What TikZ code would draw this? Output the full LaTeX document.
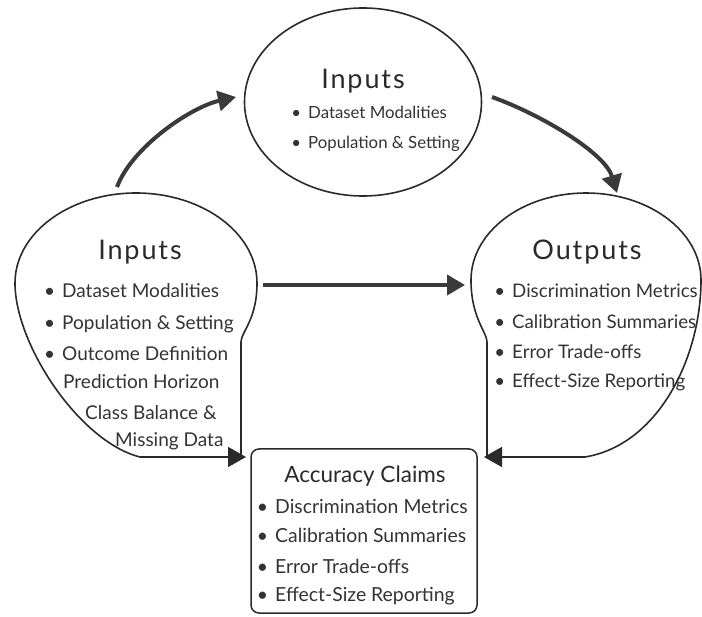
\documentclass[tikz,border=0pt]{standalone}
\usepackage{fontspec}
\setmainfont{Lato}
\newfontfamily\headfont[LetterSpace=7]{Lato}
\usetikzlibrary{arrows.meta,shapes.geometric,calc}
\definecolor{ink}{HTML}{2A2A2A}
\definecolor{txt}{HTML}{333333}
\definecolor{arrowc}{HTML}{3A3A3A}
\newcommand{\bul}{\llap{\textbullet\hspace{7pt}}}
\begin{document}
\begin{tikzpicture}[x=1pt,y=-1pt,
  outline/.style={draw=ink, line width=1.6pt, line join=round},
  flow/.style={draw=arrowc, line width=4pt, -{Triangle[length=18pt,width=20pt]}},
  cornertip/.style={draw=ink, line width=1.6pt, -{Triangle[length=18pt,width=20pt]}},
  headline/.style={anchor=base, inner sep=0pt, text=ink, font=\headfont\fontsize{27}{30}\selectfont},
  subhead/.style={anchor=base, inner sep=0pt, text=ink, font=\fontsize{22.5}{26}\selectfont},
  itemL/.style={anchor=base west, inner sep=0pt, text=txt, font=\fontsize{19}{22}\selectfont},
  itemT/.style={anchor=base west, inner sep=0pt, text=txt, font=\fontsize{16.8}{20}\selectfont},
  itemR/.style={anchor=base west, inner sep=0pt, text=txt, font=\fontsize{18.7}{22}\selectfont},
  itemB/.style={anchor=base west, inner sep=0pt, text=txt, font=\fontsize{19.4}{22}\selectfont}
]
\useasboundingbox (0,0) rectangle (702,617);

% ---- top ellipse: Inputs ----
\node[ellipse, draw=ink, line width=1.6pt, minimum width=237pt, minimum height=188pt, inner sep=0pt] (topin) at (363,102) {};
\node[headline] (topttl) at (363,89) {Inputs};
\node[itemT] (t1) at (308,119) {\bul Dataset Modalities};
\node[itemT] (t2) at (308,149) {\bul Population \& Setting};

% ---- left bubble: Inputs ----
\draw[outline] (241,457) -- (241,342)
  .. controls (241,332) and (257,320) .. (257,283)
  .. controls (257,233.3) and (202.8,193) .. (136,193)
  .. controls (69.2,193) and (15,233.3) .. (15,283)
  .. controls (15,345) and (80,442) .. (140,457) -- cycle;
\node[headline] (lttl) at (140,260) {Inputs};
\node[itemL] (l1) at (62,298) {\bul Dataset Modalities};
\node[itemL] (l2) at (62,330) {\bul Population \& Setting};
\node[itemL] (l3) at (62,361) {\bul Outcome Definition};
\node[itemL] (l4) at (63,389) {Prediction Horizon};
\node[itemL] (l5) at (85,420) {Class Balance \&};
\node[itemL] (l6) at (115,447) {Missing Data};

% ---- right bubble: Outputs ----
\draw[outline] (487,457) -- (487,342)
  .. controls (487,332) and (471,318) .. (471,280)
  .. controls (471,232) and (522.5,193) .. (586,193)
  .. controls (649.5,193) and (701,232) .. (701,280)
  .. controls (701,358) and (658,445) .. (585,457) -- cycle;
\node[headline] (rttl) at (587,260) {Outputs};
\node[itemR] (r1) at (512,298) {\bul Discrimination Metrics};
\node[itemR] (r2) at (512,329) {\bul Calibration Summaries};
\node[itemR] (r3) at (512,359) {\bul Error Trade-offs};
\node[itemR] (r4) at (512,388) {\bul Effect-Size Reporting};

% ---- bottom box: Accuracy Claims ----
\node[draw=ink, line width=1.5pt, rounded corners=8pt, minimum width=226pt, minimum height=164pt, inner sep=0pt] (claims) at (364,531) {};
\node[subhead] (cttl) at (365,483) {Accuracy Claims};
\node[itemB] (c1) at (275,514) {\bul Discrimination Metrics};
\node[itemB] (c2) at (275,543) {\bul Calibration Summaries};
\node[itemB] (c3) at (275,573) {\bul Error Trade-offs};
\node[itemB] (c4) at (275,601) {\bul Effect-Size Reporting};

% ---- connector end points ----
\coordinate (ltop) at (117,187);
\coordinate (topw) at (236,97);
\coordinate (tope) at (492,97);
\coordinate (rtop) at (617,193);
\coordinate (lright) at (263,285);
\coordinate (rleft) at (465,285);
\coordinate (lbase) at (205,457);
\coordinate (lcorner) at (246,457);
\coordinate (rbase) at (525,457);
\coordinate (rcorner) at (484,457);

% ---- connectors ----
\draw[flow] (ltop) .. controls +(15,-40) and +(-45,10) .. (topw);
\draw[flow] (tope) .. controls +(50,18) and +(-12,-40) .. (rtop);
\draw[flow] (lright) -- (rleft);
\draw[cornertip] (lbase) -- (lcorner);
\draw[cornertip] (rbase) -- (rcorner);
\end{tikzpicture}
\end{document}
